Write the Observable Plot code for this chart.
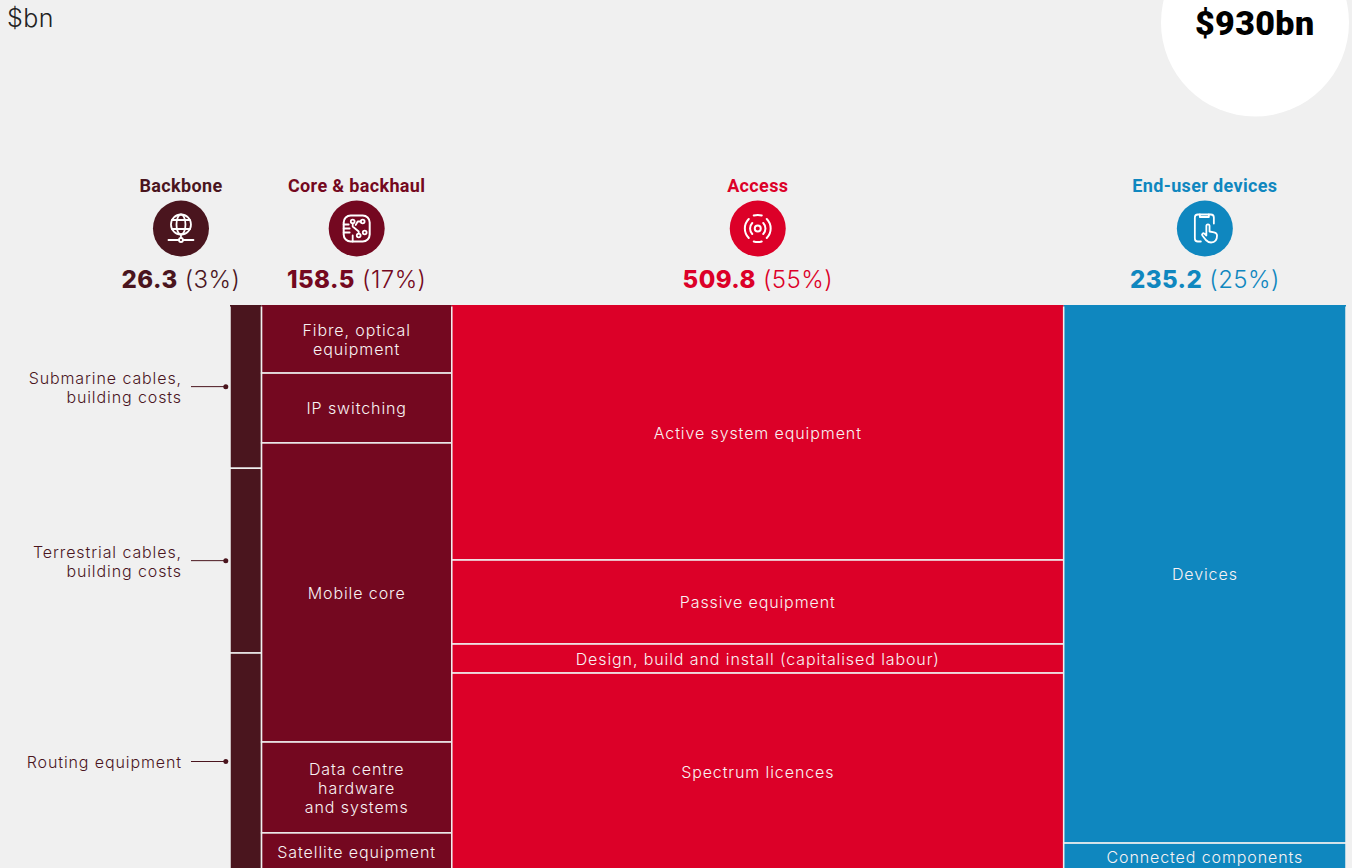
<!DOCTYPE html>
<html lang="en">
<head>
<meta charset="utf-8">
<title>$930bn</title>
<script src="https://cdn.jsdelivr.net/npm/d3@7"></script>
<script src="https://cdn.jsdelivr.net/npm/@observablehq/plot@0.6"></script>
<style>
  html, body { margin: 0; padding: 0; background: #f0f0f0; overflow: hidden; }
  svg { display: block; }
  .cell text, .leader text { letter-spacing: 0.9px; }
  .totals text { letter-spacing: 0.45px; }
  .heads text { letter-spacing: 0.35px; }
  .bubble text { letter-spacing: 0.4px; }
  .unit text { letter-spacing: 0.5px; }
</style>
</head>
<body>
<script>
const groups = ["Backbone", "Core & backhaul", "Access", "End-user devices"];
const groupColours = ["#4a151e", "#740820", "#dc0028", "#0f87bf"];
const groupValues = [26.3, 158.5, 509.8, 235.2];
const groupShares = ["3%", "17%", "55%", "25%"];

const backboneNames = ["Submarine cables,\nbuilding costs", "Terrestrial cables,\nbuilding costs", "Routing equipment"];
const backboneValues = [7.6, 8.6, 10.1];
const coreNames = ["Fibre, optical\nequipment", "IP switching", "Mobile core", "Data centre\nhardware\nand systems", "Satellite equipment"];
const coreValues = [19.1, 19.6, 83.9, 25.5, 10.4];
const accessNames = ["Active system equipment", "Passive equipment", "Design, build and install (capitalised labour)", "Spectrum licences"];
const accessValues = [230.1, 75.8, 26.2, 177.7];
const deviceNames = ["Devices", "Connected components"];
const deviceValues = [224.0, 11.2];

const totalValue = d3.sum(groupValues);
const totalLabel = "$930bn";
const unitLabel = "$bn";

const segmentNames = [backboneNames, coreNames, accessNames, deviceNames];
const segmentValues = [backboneValues, coreValues, accessValues, deviceValues];

// Lay the columns side by side; within a column each segment takes its share of the height.
const groupStarts = [0, ...d3.cumsum(groupValues)];
const cells = groups.flatMap((group, g) => {
  const sum = d3.sum(segmentValues[g]);
  const cum = [0, ...d3.cumsum(segmentValues[g])];
  return segmentNames[g].map((name, i) => ({
    group, name,
    x1: groupStarts[g], x2: groupStarts[g + 1],
    y1: cum[i] / sum, y2: cum[i + 1] / sum
  }));
});
const backboneShift = -54; // the Backbone header sits left of its thin column
const headers = groups.map((group, g) => ({
  group,
  x: (groupStarts[g] + groupStarts[g + 1]) / 2 + (g === 0 ? backboneShift : 0),
  x1: groupStarts[g],
  x2: groupStarts[g + 1],
  total: `${groupValues[g].toFixed(1)} (${groupShares[g]})`
}));
const leaders = cells.filter((d) => d.group === groups[0]);

const svgIcon = (body) =>
  "data:image/svg+xml," + encodeURIComponent(
    `<svg xmlns="http://www.w3.org/2000/svg" viewBox="0 0 36 36" fill="none" stroke="#fff" stroke-width="1.8" stroke-linecap="round" stroke-linejoin="round">${body}</svg>`
  );
const icons = [
  svgIcon(`<circle cx="18" cy="14" r="10"/><ellipse cx="18" cy="14" rx="4.5" ry="10"/><path d="M9 9.500h18M9 18.500h18M18 24v3.500"/><circle cx="18" cy="29.500" r="2"/><path d="M5.500 29.500h10.500M20 29.500h10.500"/>`),
  svgIcon(`<rect x="5" y="5" width="26" height="26" rx="7" stroke-width="2"/><circle cx="14" cy="11" r="1.900"/><circle cx="24" cy="11" r="1.900"/><circle cx="20" cy="25" r="1.900"/><circle cx="26" cy="22" r="1.900"/><path d="M14 13v3l6 5v2M22 11h-3l-2 3.500M5 14h5M5 18h6M5 22h6M14 31v-6"/>`),
  svgIcon(`<circle cx="18" cy="18" r="3" stroke-width="2"/><path stroke-width="2" d="M12.500 12.500a8 8 0 0 0 0 11M23.500 12.500a8 8 0 0 1 0 11M9 8.500a13.500 13.500 0 0 0 0 19M27 8.500a13.500 13.500 0 0 1 0 19M14 5a13.500 13.500 0 0 1 8 0M14 31a13.500 13.500 0 0 0 8 0"/>`),
  svgIcon(`<path d="M14 31h-3a3 3 0 0 1-3-3V7a3 3 0 0 1 3-3h13a3 3 0 0 1 3 3v6"/><path d="M13 4v2.500h9V4"/><path d="M19 29.500l-3.500-4.500c-1-1.500 .8-2.800 2-1.800l2 1.800V15.500c0-2.200 3.200-2.200 3.200 0V21l4.500.8c2 .4 3 1.500 3 3.300 0 3.500-1.300 6.900-6 6.900-2.700 0-3.700-1-5.200-2.500z"/>`)
];
const iconRows = headers.map((d, i) => ({...d, src: icons[i]}));

const bodyFont = "Inter";
const headFont = "Roboto";
const nudgeX = -0.5;   // Plot offsets dots and text by half a pixel; the cell edges keep it
const nudgeY = -0.15;

const plot = Plot.plot({
  width: 1352,
  height: 868,
  margin: 0,
  style: {background: "transparent"},
  x: {domain: [0, totalValue], range: [230, 1346], axis: null},
  y: {domain: [0, 1], range: [305, 870], axis: null},
  color: {domain: groups, range: groupColours},
  marks: [
    // total bubble and unit
    Plot.dot([totalValue], {frameAnchor: "top-right", dx: -97.5, dy: 22, r: 94, fill: "#fff"}),
    Plot.text([totalLabel], {frameAnchor: "top-right", dx: -38, dy: 24, lineAnchor: "middle", textAnchor: "end", fontFamily: headFont, fontWeight: 900, fontSize: 34, fill: "#000", className: "bubble"}),
    Plot.text([unitLabel], {frameAnchor: "top-left", dx: 6.5, dy: 18, lineAnchor: "middle", textAnchor: "start", fontFamily: bodyFont, fontWeight: 300, fontSize: 25, fill: "#222", className: "unit"}),

    // column headers
    Plot.text(headers, {x: "x", y: 0, dx: nudgeX, dy: -119.5, text: "group", fill: "group", fontFamily: headFont, fontWeight: 700, fontSize: 18, className: "heads"}),
    Plot.dot(headers, {x: "x", y: 0, dx: nudgeX, dy: -77, r: 28, fill: "group"}),
    Plot.image(iconRows, {x: "x", y: 0, dx: nudgeX, dy: -77, src: "src", width: 36, height: 36}),
    Plot.text(headers, {x: "x", y: 0, dx: nudgeX, dy: -25, text: "total", fill: "group", fontFamily: bodyFont, fontWeight: 300, fontSize: 24, className: "totals"}),

    // cells
    Plot.rect(cells, {x1: "x1", x2: "x2", y1: "y1", y2: "y2", fill: "group", stroke: "#f0f0f0", strokeWidth: 1.5}),
    Plot.ruleY(headers, {y: 0, x1: "x1", x2: "x2", stroke: "group", strokeWidth: 1.5, dy: 0.25}),
    Plot.text(cells.filter((d) => d.group !== groups[0]), {
      x: (d) => (d.x1 + d.x2) / 2, y: (d) => (d.y1 + d.y2) / 2, text: "name", dx: nudgeX, dy: nudgeY,
      fill: "#f8f2f3", fontFamily: bodyFont, fontWeight: 300, fontSize: 16, lineHeight: 1.19, className: "cell"
    }),

    // backbone leaders
    Plot.ruleY(leaders, {y: (d) => (d.y1 + d.y2) / 2, x1: -32.5, x2: -3.5, dy: -0.5, stroke: groupColours[0], strokeWidth: 1}),
    Plot.dot(leaders, {x: -3.5, y: (d) => (d.y1 + d.y2) / 2, dx: nudgeX, dy: -0.5, r: 2.5, fill: groupColours[0]}),
    Plot.text(leaders, {
      x: -40, y: (d) => (d.y1 + d.y2) / 2, text: "name", textAnchor: "end", dx: nudgeX, dy: nudgeY,
      fill: groupColours[0], fontFamily: bodyFont, fontWeight: 300, fontSize: 16, lineHeight: 1.19, className: "leader"
    })
  ]
});

// Bold figure + regular share inside one text element
plot.querySelectorAll(".totals text").forEach((t) => {
  const [figure, share] = t.textContent.split(" ");
  t.textContent = "";
  const bold = document.createElementNS("http://www.w3.org/2000/svg", "tspan");
  bold.setAttribute("font-weight", "800");
  bold.textContent = figure;
  t.append(bold, " " + share);
});
document.body.append(plot);
</script>
</body>
</html>
